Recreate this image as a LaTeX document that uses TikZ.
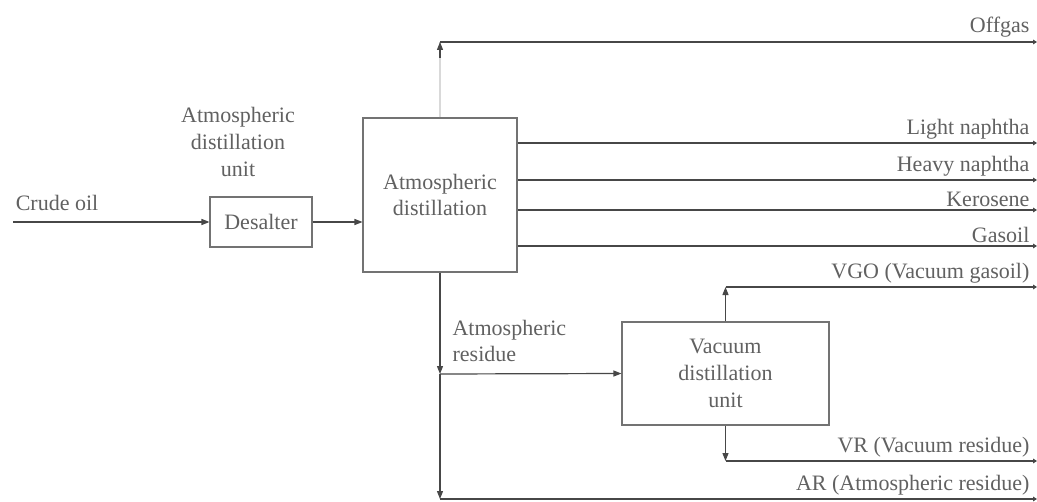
\documentclass[tikz,border=0pt]{standalone}
\usepackage{fontspec}
\setmainfont{Liberation Serif}
\usetikzlibrary{arrows.meta}
\begin{document}
\begin{tikzpicture}[x=0.75pt,y=-0.75pt,
  ln/.style={draw=black!72, line width=0.9pt},
  faint/.style={draw=black!15, line width=0.8pt},
  box/.style={draw=black!55, line width=0.8pt, inner sep=0pt},
  lbl/.style={text=black!62, font=\fontsize{16.5}{20}\selectfont, inner sep=1pt},
  arr/.style={ln, -{Triangle[length=6pt,width=4.5pt]}},
  endarr/.style={ln, -{Triangle[length=3pt,width=3.5pt]}},
]
\useasboundingbox (0,0) rectangle (1037,502);
\fill[white] (0,0) rectangle (1037,502);

% boxes
\node[lbl, box, minimum width=76.5pt, minimum height=37.5pt] (des) at (261,222) {Desalter};
\node[lbl, box, align=center, minimum width=115.5pt, minimum height=115.5pt] (atm) at (440,195) {Atmospheric\\distillation};
\node[lbl, box, align=center, minimum width=155.25pt, minimum height=77.25pt] (vac) at (725.5,373.5) {Vacuum\\distillation\\unit};

% free labels
\node[lbl, align=center] (unitlbl) at (238,142) {Atmospheric\\distillation\\unit};
\node[lbl] (crudelbl) at (57,203) {Crude oil};
\node[lbl, anchor=west, align=left] (arlbl) at (451,341) {Atmospheric\\residue};

% coordinates
\coordinate (crs) at (13,222);
\coordinate (offc) at (440,42);
\coordinate (offa) at (440,58);
\coordinate (offe) at (1037,42);
\coordinate (p1) at (1037,143);
\coordinate (p2) at (1037,180);
\coordinate (p3) at (1037,210);
\coordinate (p4) at (1037,246);
\coordinate (vgoe) at (1037,287);
\coordinate (vre) at (1037,461);
\coordinate (br) at (440,374);
\coordinate (arc) at (440,499);
\coordinate (are) at (1037,499);

% feed
\draw[arr] (crs) -- (des.west);
\draw[arr] (des.east) -- (des.east -| atm.west);

% offgas
\draw[faint] (atm.north) -- (offc);
\draw[arr] (offa) -- (offc);
\draw[endarr] (offc) -- (offe);
\node[lbl, anchor=south east] (offlbl) at (1031,39) {Offgas};

% side products
\draw[endarr] (atm.east |- p1) -- (p1);
\draw[endarr] (atm.east |- p2) -- (p2);
\draw[endarr] (atm.east |- p3) -- (p3);
\draw[endarr] (atm.east |- p4) -- (p4);
\node[lbl, anchor=south east] (l1) at (1031,141) {Light naphtha};
\node[lbl, anchor=south east] (l2) at (1031,178) {Heavy naphtha};
\node[lbl, anchor=south east] (l3) at (1031,208) {Kerosene};
\node[lbl, anchor=south east] (l4) at (1031,244) {Gasoil};

% residue
\draw[arr] (atm.south) -- (br);
\draw[arr] (br) -- (arc);
\draw[arr] (br) -- (vac.west);
\draw[endarr] (arc) -- (are);
\node[lbl, anchor=south east] (l7) at (1031,497) {AR (Atmospheric residue)};

% vacuum products
\draw[arr] (vac.north) -- (vac.north |- vgoe);
\draw[endarr] (vac.north |- vgoe) -- (vgoe);
\node[lbl, anchor=south east] (l5) at (1031,285) {VGO (Vacuum gasoil)};
\draw[arr] (vac.south) -- (vac.south |- vre);
\draw[endarr] (vac.south |- vre) -- (vre);
\node[lbl, anchor=south east] (l6) at (1031,459) {VR (Vacuum residue)};
\end{tikzpicture}
\end{document}
